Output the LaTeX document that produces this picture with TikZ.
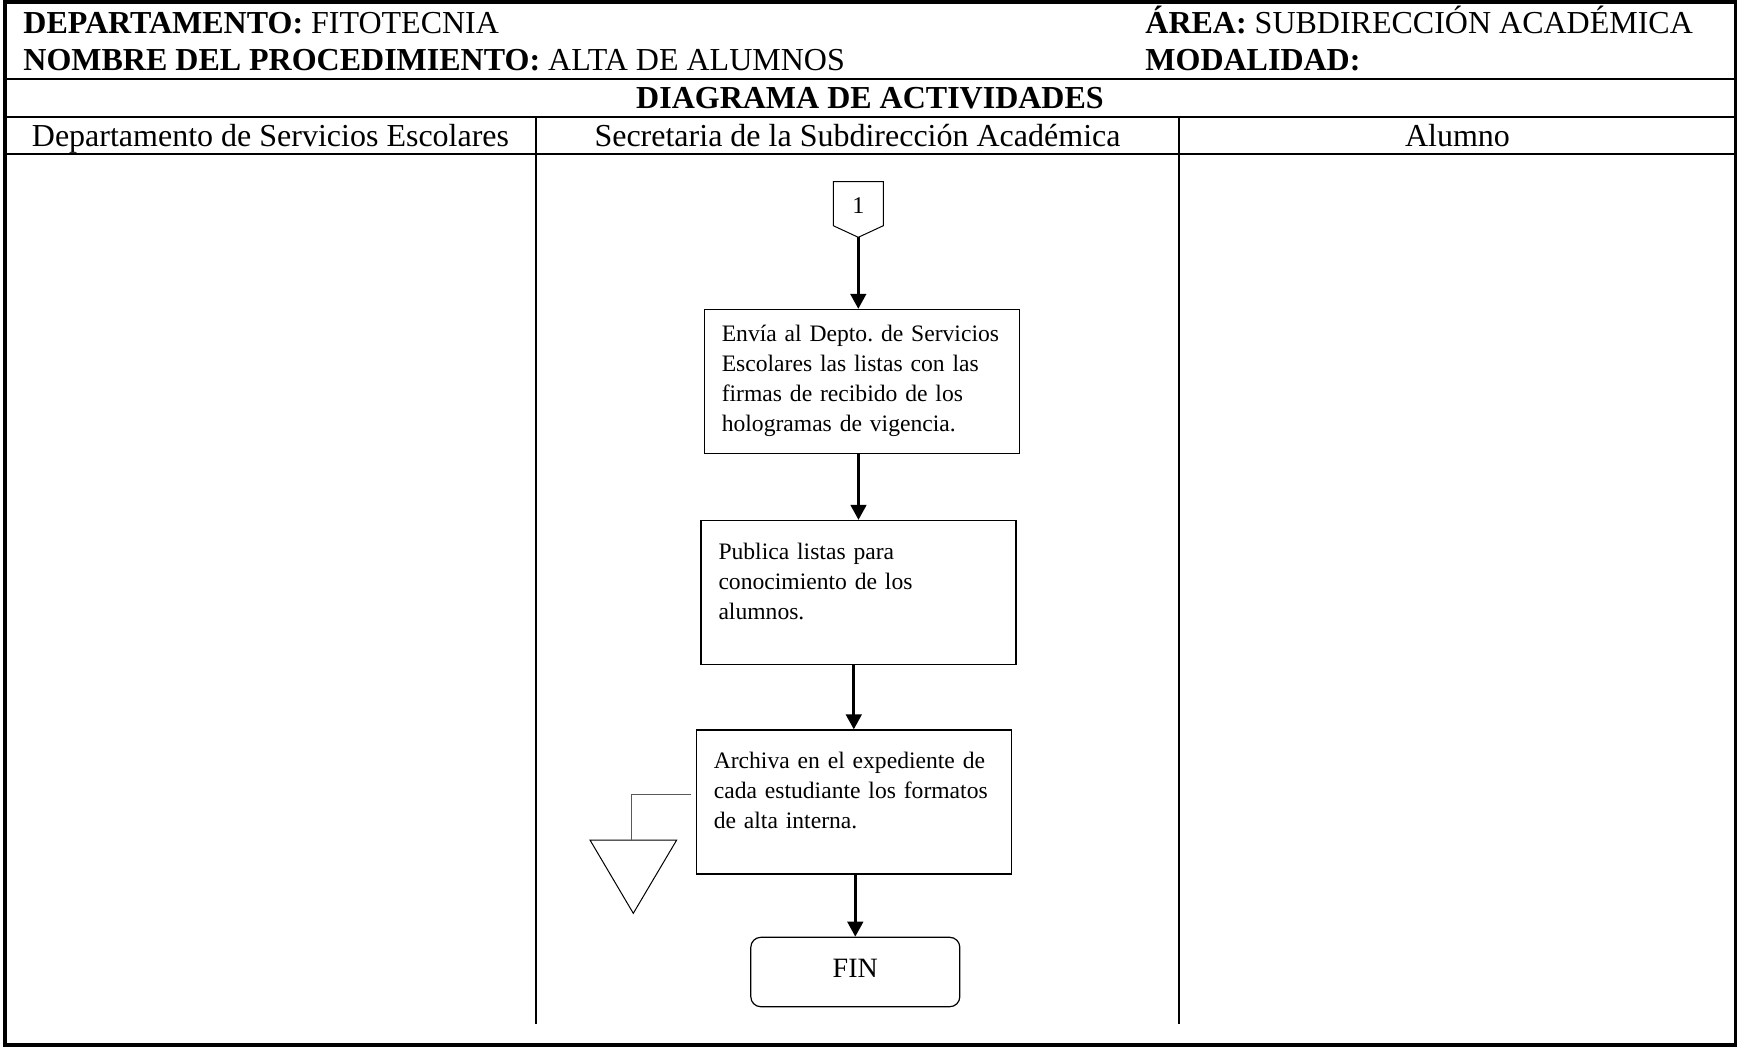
\documentclass[tikz,border=0pt]{standalone}
\usepackage{fontspec}
\setmainfont{Liberation Serif}
\usetikzlibrary{arrows.meta}
\hyphenpenalty=10000
\frenchspacing
\tikzset{
  proc/.style={draw, line width=0.6pt, text width=140pt, align=left, inner xsep=8.75pt, inner ysep=6pt,
    minimum width=157.5pt, text height=13.25pt, text depth=46.75pt, font=\fontsize{11.8}{15}\selectfont},
  flow/.style={line width=1.6pt, -{Triangle[length=7.5pt,width=7.7pt]}},
  hdr/.style={anchor=base west, inner sep=0pt, font=\fontsize{16}{19}\selectfont},
  lane/.style={anchor=base, inner sep=0pt, font=\fontsize{16}{19}\selectfont},
  grid/.style={line width=1.1pt}
}
\begin{document}
\begin{tikzpicture}[x=0.5pt,y=-0.5pt]
    \useasboundingbox (0,0) rectangle (1737,1046);
    \draw[line width=2pt] (5,2) rectangle (1735.5,1044.5);
    \draw[grid] (5,79) -- (1735.5,79);
    \draw[grid] (5,117) -- (1735.5,117);
    \draw[grid] (5,154) -- (1735.5,154);
    \draw[grid] (536,117) -- (536,1024);
    \draw[grid] (1179,117) -- (1179,1024);
    \node[hdr] (depto) at (23,33) {\textbf{DEPARTAMENTO:} FITOTECNIA};
    \node[hdr] (proced) at (23,70) {\textbf{NOMBRE DEL PROCEDIMIENTO:} ALTA DE ALUMNOS};
    \node[hdr] (area) at (1145,33) {\textbf{ÁREA:} SUBDIRECCIÓN ACADÉMICA};
    \node[hdr] (modal) at (1145,70) {\textbf{MODALIDAD:}};
    \node[lane, font=\fontsize{16}{19}\selectfont\bfseries] (titulo) at (870,108) {DIAGRAMA DE ACTIVIDADES};
    \node[lane] (servicios) at (270.5,146.5) {Departamento de Servicios Escolares};
    \node[lane] (secretaria) at (857.5,146.5) {Secretaria de la Subdirección Académica};
    \node[lane] (alumno) at (1457.5,146.5) {Alumno};
    \node[inner sep=0pt, font=\fontsize{12}{14}\selectfont] (conec) at (858.3,206) {1};
    \draw[line width=0.5pt] (833.3,181.7) -- (883.3,181.7) -- (883.3,225.7) -- (858.3,237.3) -- (833.3,225.7) -- cycle;
    \coordinate (conec tip) at (858.3,237.3);
    \node[proc, text height=10pt, text depth=50pt] (envia) at (861.8,381.5) {Envía al Depto. de Servicios\\ Escolares las listas con las\\ firmas de recibido de los\\ hologramas de vigencia.};
    \node[proc] (publica) at (858.5,592.5) {Publica listas para\\ conocimiento de los\\ alumnos.};
    \node[proc] (archiva) at (853.8,802) {Archiva en el expediente de\\ cada estudiante los formatos\\ de alta interna.};
    \node[draw, line width=0.6pt, rounded corners=5pt, minimum width=104.5pt, minimum height=34.7pt,
      text depth=4pt, font=\fontsize{14}{17}\selectfont] (fin) at (855.3,972) {FIN};
    \draw[line width=0.5pt] (590,840) -- (676.7,840) -- (633.3,913.3) -- cycle;
    \coordinate (archivo) at (631.7,840);
    \draw[flow] (conec tip) -- (conec tip |- envia.north);
    \draw[flow] (envia.south -| publica.north) -- (publica.north);
    \draw[flow] (publica.south -| archiva.north) -- (archiva.north);
    \draw[flow] (archiva.south -| fin.north) -- (fin.north);
    \draw[line width=0.7pt, black!65] ([shift={(-4.6,-7.5)}]archiva.west) -| (archivo);
\end{tikzpicture}
\end{document}
